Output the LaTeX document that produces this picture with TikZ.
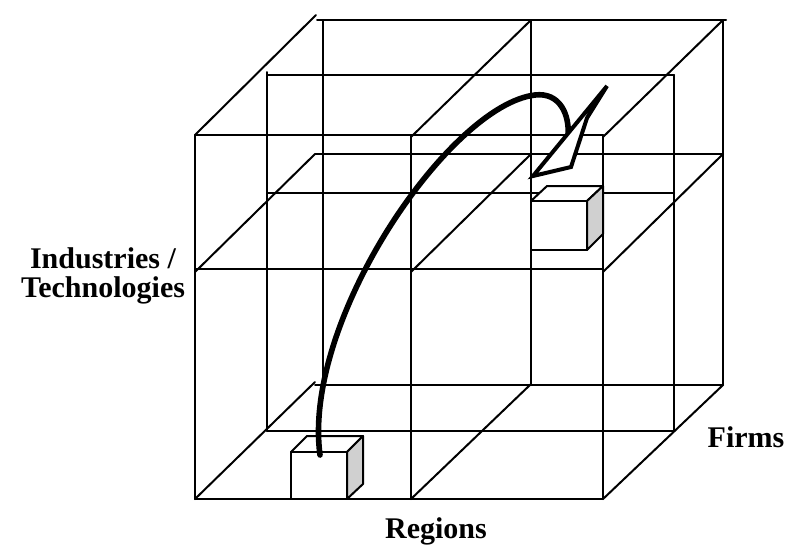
\documentclass[tikz,border=0pt]{standalone}
\usepackage{fontspec}
\setmainfont{Liberation Serif}
\definecolor{cubegray}{HTML}{D0D0D0}
\begin{document}
\begin{tikzpicture}[x=1pt,y=-1pt,
  gridline/.style={line width=2pt, line cap=round},
  shaft/.style={line width=5.6pt, line cap=round},
  headshape/.style={draw, line width=4pt, fill=white, line join=miter},
  cubeface/.style={draw, line width=2pt, fill=white, line join=round},
  cubeside/.style={draw, line width=2pt, fill=cubegray, line join=round},
  axislabel/.style={font=\fontsize{30}{30}\selectfont\bfseries, inner sep=0pt, anchor=base}]
\useasboundingbox (0,0) rectangle (790,544);

% ---- front face
\draw[gridline] (195,135) -- (603,135);
\draw[gridline] (195,269) -- (603,269);
\draw[gridline] (195,499) -- (603,499);
\draw[gridline] (195,135) -- (195,499);
\draw[gridline] (411,135) -- (411,499);
\draw[gridline] (603,135) -- (603,499);

% ---- middle depth plane
\draw[gridline] (267,75) -- (674,75);
\draw[gridline] (267,193) -- (674,193);
\draw[gridline] (267,431) -- (674,431);
\draw[gridline] (267,72) -- (267,431);
\draw[gridline] (674,75) -- (674,431);

% ---- back face
\draw[gridline] (317,20) -- (726,20);
\draw[gridline] (315,154) -- (723,154);
\draw[gridline] (315,385) -- (723,385);
\draw[gridline] (323,20) -- (323,385);
\draw[gridline] (531,20) -- (531,385);
\draw[gridline] (723,20) -- (723,385);

% ---- depth lines
\draw[gridline] (195,135) -- (316,15);
\draw[gridline] (411,137) -- (531,20);
\draw[gridline] (603,137) -- (723,20);
\draw[gridline] (195,272) -- (315,154);
\draw[gridline] (411,272) -- (531,154);
\draw[gridline] (603,272) -- (723,154);
\draw[gridline] (195,499) -- (315,382);
\draw[gridline] (411,499) -- (531,384);
\draw[gridline] (603,499) -- (723,385);

% ---- small cube at the bottom
\draw[cubeface] (291,452) -- (307,436) -- (363,436) -- (347,452) -- cycle;
\draw[cubeside] (347,452) -- (363,436) -- (363,484) -- (347,499) -- cycle;
\draw[cubeface] (291,452) rectangle (347,499);
\coordinate (startpt) at (320,455);

% ---- small cube at the top right
\draw[cubeface] (531,201) -- (547,186) -- (603,186) -- (587,201) -- cycle;
\draw[cubeside] (587,201) -- (603,186) -- (603,234) -- (587,250) -- cycle;
\draw[cubeface] (531,201) rectangle (587,250);
\coordinate (apex) at (535,95);
\coordinate (endpt) at (568,137);

% ---- curved arrow
\draw[shaft] (startpt) .. controls (302,320) and (450,105) .. (apex)
  .. controls (560,92) and (570,115) .. (endpt);
\draw[headshape] (533,176) -- (571,167) -- (587,118) -- (607,86) -- cycle;

% ---- labels
\node[axislabel] (ind) at (103,268) {Industries /};
\node[axislabel] (tech) at (103,297) {Technologies};
\node[axislabel] (firms) at (746,447) {Firms};
\node[axislabel] (reg) at (436,538) {Regions};
\end{tikzpicture}
\end{document}
